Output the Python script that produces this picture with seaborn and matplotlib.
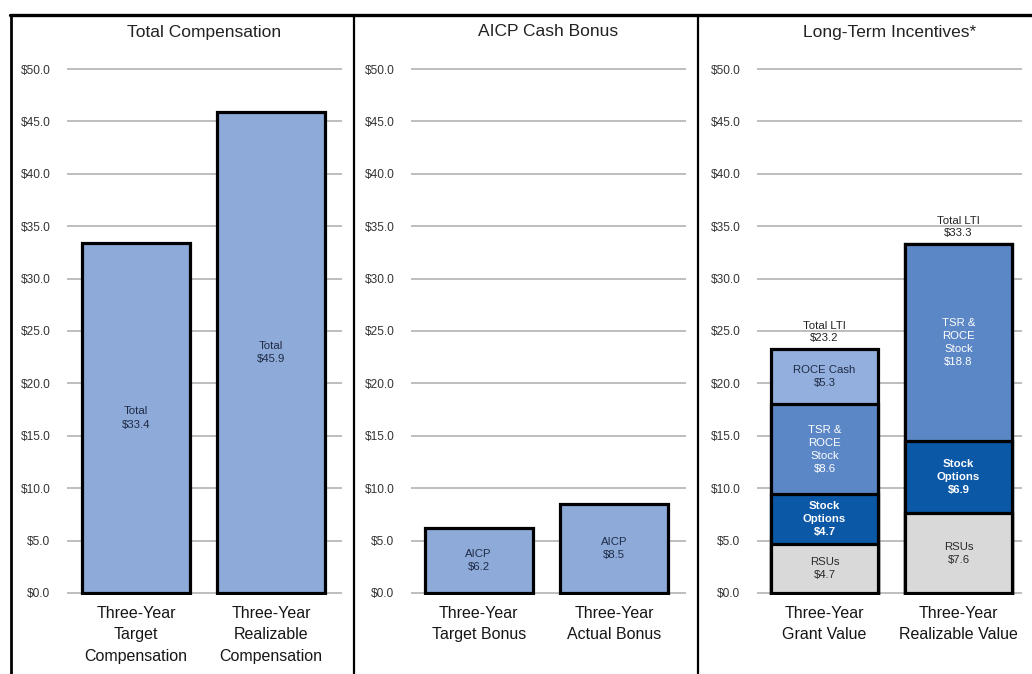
import matplotlib
matplotlib.use("Agg")
import matplotlib.pyplot as plt
from matplotlib.lines import Line2D
import seaborn as sns

# ---------------------------------------------------------------------------
# Data ($ millions)
# ---------------------------------------------------------------------------
comp_cats = ["Three-Year\nTarget\nCompensation", "Three-Year\nRealizable\nCompensation"]
comp_vals = [33.4, 45.9]

bonus_cats = ["Three-Year\nTarget Bonus", "Three-Year\nActual Bonus"]
bonus_vals = [6.2, 8.5]

lti_cats = ["Three-Year\nGrant Value", "Three-Year\nRealizable Value"]
lti_rsus = [4.7, 7.6]
lti_options = [4.7, 6.9]
lti_tsr = [8.6, 18.8]
lti_cash = [5.3, 0.0]
lti_totals = [23.2, 33.3]

y_ticks = [0, 5, 10, 15, 20, 25, 30, 35, 40, 45, 50]
titles = ["Total Compensation", "AICP Cash Bonus", "Long-Term Incentives*"]

# ---------------------------------------------------------------------------
# Style
# ---------------------------------------------------------------------------
sns.set_style("white")
plt.rcParams["font.family"] = ["Liberation Sans", "DejaVu Sans"]
narrow = ["Liberation Sans Narrow", "Liberation Sans", "DejaVu Sans"]

c_light = "#8eaad9"
c_cash = "#93afdd"
c_tsr = "#5b87c6"
c_opt = "#0b58a6"
c_rsu = "#d9d9d9"
c_grid = "#b3b3b3"
c_text = "#1f2b45"
edge_lw = 2.3
lab_fs = 8.2

fig = plt.figure(figsize=(10.32, 6.74), dpi=100)

W, H = 1032, 674
y_bot, y_top = 594.5, 67.5
axes_px = [(67, 342, (-0.511, 1.526)),
           (411, 686, (-0.50, 1.53)),
           (757, 1022, (-0.504, 1.474))]

axes = []
for x0, x1, xl in axes_px:
    ax = fig.add_axes([x0 / W, 1 - y_bot / H, (x1 - x0) / W, (y_bot - y_top) / H])
    axes.append(ax)


def style_axis(ax, cats, xlim, title):
    ax.set_xlim(*xlim)
    ax.set_ylim(-0.15, 50.15)
    ax.set_yticks(y_ticks)
    ax.set_yticklabels([f"${v:.1f}" for v in y_ticks], family=narrow,
                       fontsize=8.6, color="#333333")
    ax.set_xticks(range(len(cats)))
    ax.set_xticklabels(cats, family=narrow, fontsize=11.5, color="#161616",
                       linespacing=1.55)
    ax.tick_params(axis="both", length=0)
    ax.tick_params(axis="y", pad=12)
    ax.tick_params(axis="x", pad=8)
    for s in ax.spines.values():
        s.set_visible(False)
    ax.yaxis.grid(True, color=c_grid, linewidth=1.2)
    ax.xaxis.grid(False)
    ax.set_axisbelow(True)
    ax.set_xlabel("")
    ax.set_ylabel("")
    ax.text(0.5, 1 + (y_top - 32) / (y_bot - y_top), title, transform=ax.transAxes,
            ha="center", va="center", fontsize=12.5, color="#222222")


# Panel 1: total compensation
ax = axes[0]
sns.barplot(x=comp_cats, y=comp_vals, ax=ax, color=c_light, saturation=1,
            edgecolor="black", linewidth=edge_lw, width=0.8, errorbar=None)
for i, v in enumerate(comp_vals):
    ax.text(i, v / 2, f"Total\n${v:.1f}", ha="center", va="center",
            family=narrow, fontsize=lab_fs, color=c_text, linespacing=1.4)
style_axis(ax, comp_cats, axes_px[0][2], titles[0])

# Panel 2: AICP cash bonus
ax = axes[1]
sns.barplot(x=bonus_cats, y=bonus_vals, ax=ax, color=c_light, saturation=1,
            edgecolor="black", linewidth=edge_lw, width=0.8, errorbar=None)
for i, v in enumerate(bonus_vals):
    ax.text(i, v / 2, f"AICP\n${v:.1f}", ha="center", va="center",
            family=narrow, fontsize=lab_fs, color=c_text, linespacing=1.4)
style_axis(ax, bonus_cats, axes_px[1][2], titles[1])

# Panel 3: stacked LTI (drawn as overlapping cumulative bars, top layer first)
ax = axes[2]
layers = [
    (lti_rsus, c_rsu, "RSUs", "#2a2a2a", "normal"),
    (lti_options, c_opt, "Stock\nOptions", "white", "bold"),
    (lti_tsr, c_tsr, "TSR &\nROCE\nStock", "white", "normal"),
    (lti_cash, c_cash, "ROCE Cash", c_text, "normal"),
]
bottoms = [[0.0] * len(lti_cats)]
for vals, *_ in layers:
    bottoms.append([b + v for b, v in zip(bottoms[-1], vals)])

for k in range(len(layers) - 1, -1, -1):
    vals, col, lab, tcol, tw = layers[k]
    sns.barplot(x=lti_cats, y=bottoms[k + 1], ax=ax, color=col, saturation=1,
                edgecolor="black", linewidth=edge_lw, width=0.8, errorbar=None)

for k, (vals, col, lab, tcol, tw) in enumerate(layers):
    for i, v in enumerate(vals):
        if v <= 0:
            continue
        ax.text(i, bottoms[k][i] + v / 2, f"{lab}\n${v:.1f}", ha="center",
                va="center", family=narrow, fontsize=lab_fs, color=tcol,
                fontweight=tw, linespacing=1.4)

for i, t in enumerate(lti_totals):
    ax.text(i, bottoms[-1][i] + 0.6, f"Total LTI\n${t:.1f}", ha="center",
            va="bottom", family=narrow, fontsize=lab_fs, color="#222222",
            linespacing=1.25)
style_axis(ax, lti_cats, axes_px[2][2], titles[2])

# Panel frame lines
top_y = 1 - 14.5 / H
fig.add_artist(Line2D([10 / W, 1.0], [top_y, top_y], transform=fig.transFigure,
                      color="black", linewidth=2.4))
fig.add_artist(Line2D([10.5 / W, 10.5 / W], [0, top_y], transform=fig.transFigure,
                      color="black", linewidth=2.0))
for xd in (354, 698):
    fig.add_artist(Line2D([xd / W, xd / W], [0, top_y], transform=fig.transFigure,
                          color="black", linewidth=1.6))

fig.savefig("out.png", dpi=100)
